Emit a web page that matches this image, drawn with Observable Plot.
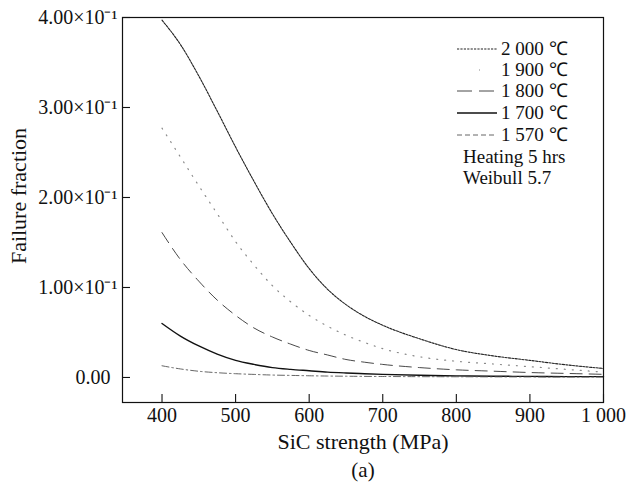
<!DOCTYPE html>
<html><head><meta charset="utf-8">
<script src="https://cdn.jsdelivr.net/npm/d3@7"></script>
<script src="https://cdn.jsdelivr.net/npm/@observablehq/plot@0.6"></script>
<style>
body{margin:0;background:#fff;}
#chart{width:626px;height:483px;}
</style>
</head><body><div id="chart"></div>
<script>
// ---- data ----
const strength = [400,425,450,475,500,525,550,575,600,625,650,675,700,750,800,850,900,950,1000];
const f2000 = [0.397,0.370,0.335,0.296,0.256,0.218,0.182,0.150,0.121,0.098,0.081,0.068,0.058,0.043,0.031,0.024,0.019,0.014,0.010];
const f1900 = [0.277,0.245,0.213,0.182,0.151,0.125,0.102,0.084,0.069,0.057,0.047,0.039,0.032,0.023,0.018,0.015,0.012,0.009,0.006];
const f1800 = [0.161,0.131,0.107,0.086,0.069,0.055,0.045,0.037,0.030,0.025,0.020,0.017,0.0145,0.011,0.0085,0.007,0.0055,0.0045,0.0035];
const f1700 = [0.060,0.046,0.035,0.026,0.019,0.0145,0.011,0.009,0.0075,0.006,0.005,0.0042,0.0035,0.0024,0.0018,0.0014,0.0012,0.001,0.001];
const f1570 = [0.013,0.0095,0.0069,0.0053,0.0042,0.0034,0.0027,0.0023,0.0019,0.0016,0.0014,0.0012,0.0011,0.0009,0.0008,0.0007,0.0006,0.0005,0.0005];
const seriesNames = ["2 000 ℃","1 900 ℃","1 800 ℃","1 700 ℃","1 570 ℃"];
const seriesValues = [f2000,f1900,f1800,f1700,f1570];
const noteLines = ["Heating 5 hrs","Weibull 5.7"];
const xTicks = [400,500,600,700,800,900,1000];
const xTickLabels = ["400","500","600","700","800","900","1 000"];
const yTicks = [0,0.1,0.2,0.3,0.4];
const yTickLabels = ["0.00","1.00×10⁻¹","2.00×10⁻¹","3.00×10⁻¹","4.00×10⁻¹"];
const xLabel = "SiC strength (MPa)";
const yLabel = "Failure fraction";
const caption = "(a)";

// ---- styles ----
const lineStyles = [
  {stroke:"#222", strokeWidth:1.1, dash:"2.2,1.2"},
  {stroke:"#8a8a8a", strokeWidth:1.2, dash:"1,7"},
  {stroke:"#333", strokeWidth:0.9, dash:"12,7"},
  {stroke:"#111", strokeWidth:1.4, dash:null},
  {stroke:"#555", strokeWidth:0.9, dash:"7,3,1.5,3"}
];
const legendDash = ["2.2,1.2", "1,40", "15,7", null, "5,3"];
const FONT = "Liberation Serif, Times New Roman, serif";
const W = 626, H = 483;
const mL = 122, mR = 23, mT = 17, mB = 81;
const xDomain = [346.3, 1000];
const yDomain = [-0.0278, 0.4];

const rows = [];
seriesNames.forEach((name, i) => strength.forEach((x, j) => rows.push({series: name, idx: i, x, y: seriesValues[i][j]})));

const pxY = (yDomain[1]-yDomain[0])/(H-mT-mB);
const pxX = (xDomain[1]-xDomain[0])/(W-mL-mR);
const tickLen = 8;

const marks = [];
seriesNames.forEach((name, i) => {
  const s = lineStyles[i];
  marks.push(Plot.line(rows.filter(r => r.idx === i), {
    x: "x", y: "y", stroke: s.stroke, strokeWidth: s.strokeWidth,
    strokeDasharray: s.dash || undefined, curve: "monotone-x"
  }));
});
marks.push(Plot.frame({stroke: "#111", strokeWidth: 1.2}));
marks.push(Plot.ruleX(xTicks, {x: d => d, y1: yDomain[0], y2: yDomain[0] + tickLen*pxY, stroke: "#111", strokeWidth: 1.1}));
marks.push(Plot.ruleY(yTicks, {y: d => d, x1: xDomain[0], x2: xDomain[0] + tickLen*pxX, stroke: "#111", strokeWidth: 1.1}));
marks.push(Plot.axisX(xTicks, {tickSize: 0, tickPadding: 5, tickFormat: d => xTickLabels[xTicks.indexOf(d)], fontSize: 20, label: null}));
marks.push(Plot.axisY([0], {tickSize: 0, tickPadding: 12, tickFormat: d => yTickLabels[yTicks.indexOf(d)], fontSize: 20, label: null}));
marks.push(Plot.axisY(yTicks.slice(1), {tickSize: 0, tickPadding: 5, tickFormat: d => yTickLabels[yTicks.indexOf(d)], fontSize: 20, label: null}));
marks.push(Plot.text([xLabel], {frameAnchor: "bottom", lineAnchor: "middle", dy: 39, fontSize: 22, text: d => d}));
marks.push(Plot.text([caption], {frameAnchor: "bottom", lineAnchor: "middle", dy: 68, fontSize: 21, text: d => d}));
marks.push(Plot.text([yLabel], {frameAnchor: "left", textAnchor: "middle", lineAnchor: "middle", rotate: -90, dx: -104, dy: -14, fontSize: 22, text: d => d}));

const chart = Plot.plot({
  width: W, height: H,
  marginLeft: mL, marginRight: mR, marginTop: mT, marginBottom: mB,
  x: {domain: xDomain, axis: null},
  y: {domain: yDomain, axis: null},
  style: {fontFamily: FONT, fontSize: "20px", color: "#111", background: "#fff"},
  marks
});

// legend (layout in pixels, content from data arrays)
const svg = d3.select(chart);
const lg = svg.append("g").attr("font-family", FONT).attr("font-size", 19).attr("fill", "#111").attr("text-anchor", "start");
const rowY = [49, 70, 91, 113, 135];
seriesNames.forEach((name, i) => {
  const s = lineStyles[i];
  const x1 = i === 1 ? 479 : 457;
  lg.append("line").attr("x1", x1).attr("x2", 497).attr("y1", rowY[i]).attr("y2", rowY[i])
    .attr("stroke", s.stroke).attr("stroke-width", s.strokeWidth)
    .attr("stroke-dasharray", legendDash[i]);
  lg.append("text").attr("x", 501).attr("y", rowY[i]).attr("dy", "0.33em").text(name);
});
noteLines.forEach((t, i) => {
  lg.append("text").attr("x", 463).attr("y", 157 + i*21).attr("dy", "0.33em").text(t);
});

document.getElementById("chart").appendChild(chart);
</script>
</body></html>
